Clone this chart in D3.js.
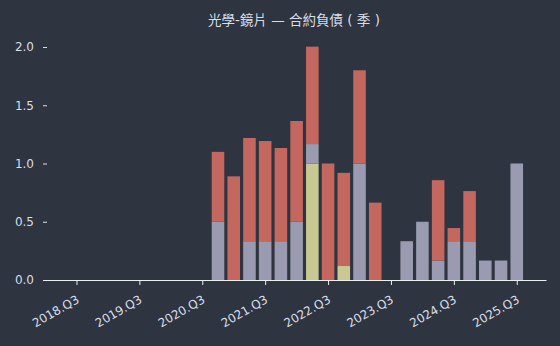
<!DOCTYPE html>
<meta charset="utf-8">
<style>
    body { margin: 0; background: #2e3440; }
    svg { display: block; }
    .tick text { fill: #d8dee9; font-size: 12px; font-family: "DejaVu Sans", sans-serif; }
</style>
<svg width="560" height="346"></svg>
<script src="https://cdn.jsdelivr.net/npm/d3@7"></script>
<script>

    var quarters = ["2018.Q1","2018.Q2","2018.Q3","2018.Q4","2019.Q1","2019.Q2","2019.Q3","2019.Q4",
                    "2020.Q1","2020.Q2","2020.Q3","2020.Q4","2021.Q1","2021.Q2","2021.Q3","2021.Q4",
                    "2022.Q1","2022.Q2","2022.Q3","2022.Q4","2023.Q1","2023.Q2","2023.Q3","2023.Q4",
                    "2024.Q1","2024.Q2","2024.Q3","2024.Q4","2025.Q1","2025.Q2","2025.Q3"];

    // three stacked series, bottom to top
    var seriesA = [0,0,0,0,0,0,0,0, 0,0,0,0,0,0,0,0, 0,1.0,0,0.12,0,0,0,0, 0,0,0,0,0,0,0];
    var seriesB = [0,0,0,0,0,0,0,0, 0,0,0,0.5,0,0.333,0.333,0.333, 0.5,0.167,0,0,1.0,0,0,0.333, 0.5,0.167,0.333,0.333,0.167,0.167,1.0];
    var seriesC = [0,0,0,0,0,0,0,0, 0,0,0,0.6,0.89,0.886,0.86,0.80, 0.865,0.836,1.0,0.80,0.80,0.664,0,0, 0,0.69,0.113,0.43,0,0,0];

    var yTicks = [0, 0.5, 1.0, 1.5, 2.0];
    var xTickLabels = ["2018.Q3","2019.Q3","2020.Q3","2021.Q3","2022.Q3","2023.Q3","2024.Q3","2025.Q3"];
    var colors = ["#c8c992", "#9a9bb0", "#c3675f"];

    var svg = d3.select("svg");

    var x = d3.scaleLinear().domain([-0.13, 31.86]).range([43, 546]);
    var y = d3.scaleLinear().domain([0, 2.0]).range([280, 47]);
    var barW = 0.8 * (x(1) - x(0));

    var table = quarters.map(function(q, i) {
        return {q: q, i: i, a: seriesA[i], b: seriesB[i], c: seriesC[i]};
    });
    var stack = d3.stack().keys(["a", "b", "c"])(table);

    svg.append("text")
        .attr("x", 294).attr("y", 25)
        .attr("text-anchor", "middle")
        .attr("fill", "#d8dee9")
        .style("font-family", "'DejaVu Sans', 'Noto Sans CJK TC', sans-serif")
        .style("font-size", "13.5px")
        .text("光學-鏡片 — 合約負債 ( 季 )");

    svg.append("g").selectAll("g")
        .data(stack)
        .enter().append("g")
        .attr("fill", function(d, k) { return colors[k]; })
        .selectAll("rect")
        .data(function(d) { return d.filter(function(p) { return p[1] - p[0] > 0; }); })
        .enter().append("rect")
        .attr("x", function(p) { return x(p.data.i) - barW / 2; })
        .attr("y", function(p) { return y(p[1]); })
        .attr("width", barW)
        .attr("height", function(p) { return y(p[0]) - y(p[1]); });

    // y axis: no spine, short ticks
    var gy = svg.append("g")
        .attr("transform", "translate(47,0)")
        .call(d3.axisLeft(y).tickValues(yTicks).tickFormat(d3.format(".1f")).tickSize(4).tickPadding(9));
    gy.select(".domain").remove();
    gy.selectAll(".tick line").attr("stroke", "#d8dee9");

    var gx = svg.append("g")
        .attr("transform", "translate(0,280)")
        .call(d3.axisBottom(x)
            .tickValues(xTickLabels.map(function(t) { return quarters.indexOf(t); }))
            .tickFormat(function(i) { return quarters[i]; })
            .tickSize(5).tickSizeOuter(0));
    gx.select(".domain").attr("stroke", "#eceff4").attr("stroke-width", 1.2);
    gx.selectAll(".tick line").attr("stroke", "#eceff4");
    gx.selectAll(".tick text")
        .attr("text-anchor", "end")
        .attr("dy", 0)
        .attr("transform", "translate(-1,15) rotate(-30)");

</script>
